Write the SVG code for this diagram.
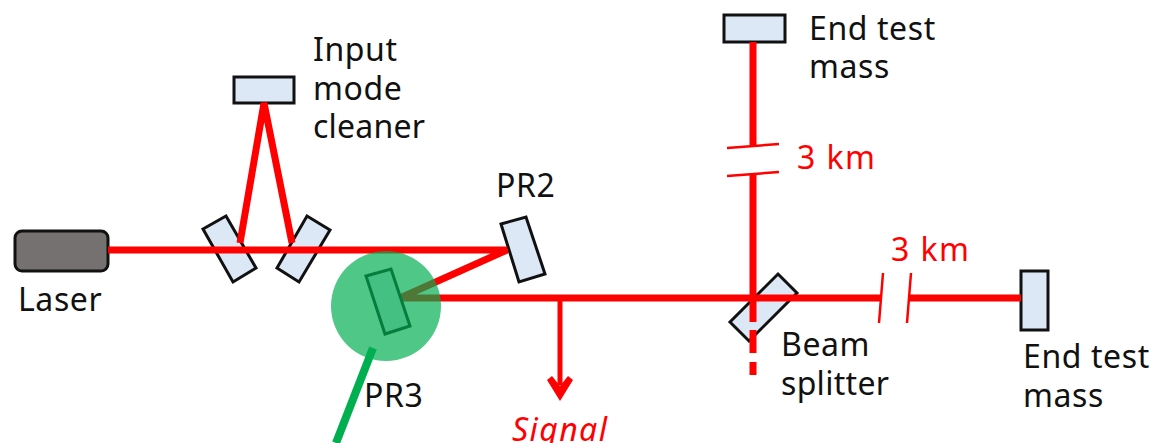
<svg xmlns="http://www.w3.org/2000/svg" width="1156" height="443" viewBox="0 0 1156 443">
<style>
.m{fill:#dce8f5;stroke:#111;stroke-width:3;stroke-linejoin:miter}
.b{fill:none;stroke:#f00;stroke-width:7}
.t{stroke:#f00;stroke-width:2.5;fill:none}
text{font-family:"Noto Sans","DejaVu Sans",sans-serif;font-size:32px;letter-spacing:.6px;fill:#111}
.r{fill:#f00;letter-spacing:1.4px}
</style>
<g id="laser"><rect x="15" y="231" width="93" height="40" rx="7" fill="#767171" stroke="#111" stroke-width="3"/><text x="18" y="311">Laser</text></g>
<g id="imc-mirror"><rect class="m" x="234" y="77" width="60" height="26"/><text x="313" y="61">Input</text><text x="313" y="100">mode</text><text x="313" y="138" style="letter-spacing:.2px">cleaner</text></g>
<g id="imc-left"><polygon class="m" points="203,229 226,216 256,268 233,282"/></g>
<g id="imc-right"><polygon class="m" points="277,268 307,216 330,230 299,282"/></g>
<g id="pr2"><polygon class="m" points="501,224 526,217 545,274 519,282"/><text x="496" y="197">PR2</text></g>
<g id="beam-splitter"><polygon class="m" points="778,274 797,293 749,341 730,322"/><text x="781" y="356">Beam</text><text x="781" y="395" style="letter-spacing:.3px">splitter</text></g>
<g id="end-top"><rect class="m" x="724" y="15" width="61" height="27"/><text x="809" y="40">End test</text><text x="809" y="78">mass</text></g>
<g id="end-right"><rect class="m" x="1021" y="271" width="27" height="59"/><text x="1023" y="368">End test</text><text x="1023" y="407">mass</text></g>
<g id="connectors">
<path class="b" d="M108 250H507L400 298H881M908 298H1021M240 243L264 103L292 243M753 42V145M753 174V322"/>
<path class="b" d="M753 330V353M753 362V375"/>
<path class="b" d="M560 299V385" style="stroke-width:5"/>
<polygon points="547,380 552,376 560,386 568,376 573,380 560,401" fill="#f00"/>
<path class="t" d="M727 148L779 144M727 176L779 172M883 273L879 323M911 273L907 323"/>
<path d="M373 348L336 443" fill="none" stroke="#00b050" stroke-width="8"/>
</g>
<g id="labels"><text class="r" x="797" y="169">3 km</text><text class="r" x="891" y="261">3 km</text><text class="r" x="512" y="441" font-style="italic">Signal</text></g>
<g id="pr3"><polygon class="m" points="366,276 391,269 410,326 385,334"/><circle cx="386" cy="306" r="55" fill="#00ae50" fill-opacity=".69"/><text x="364" y="407">PR3</text></g>
</svg>
